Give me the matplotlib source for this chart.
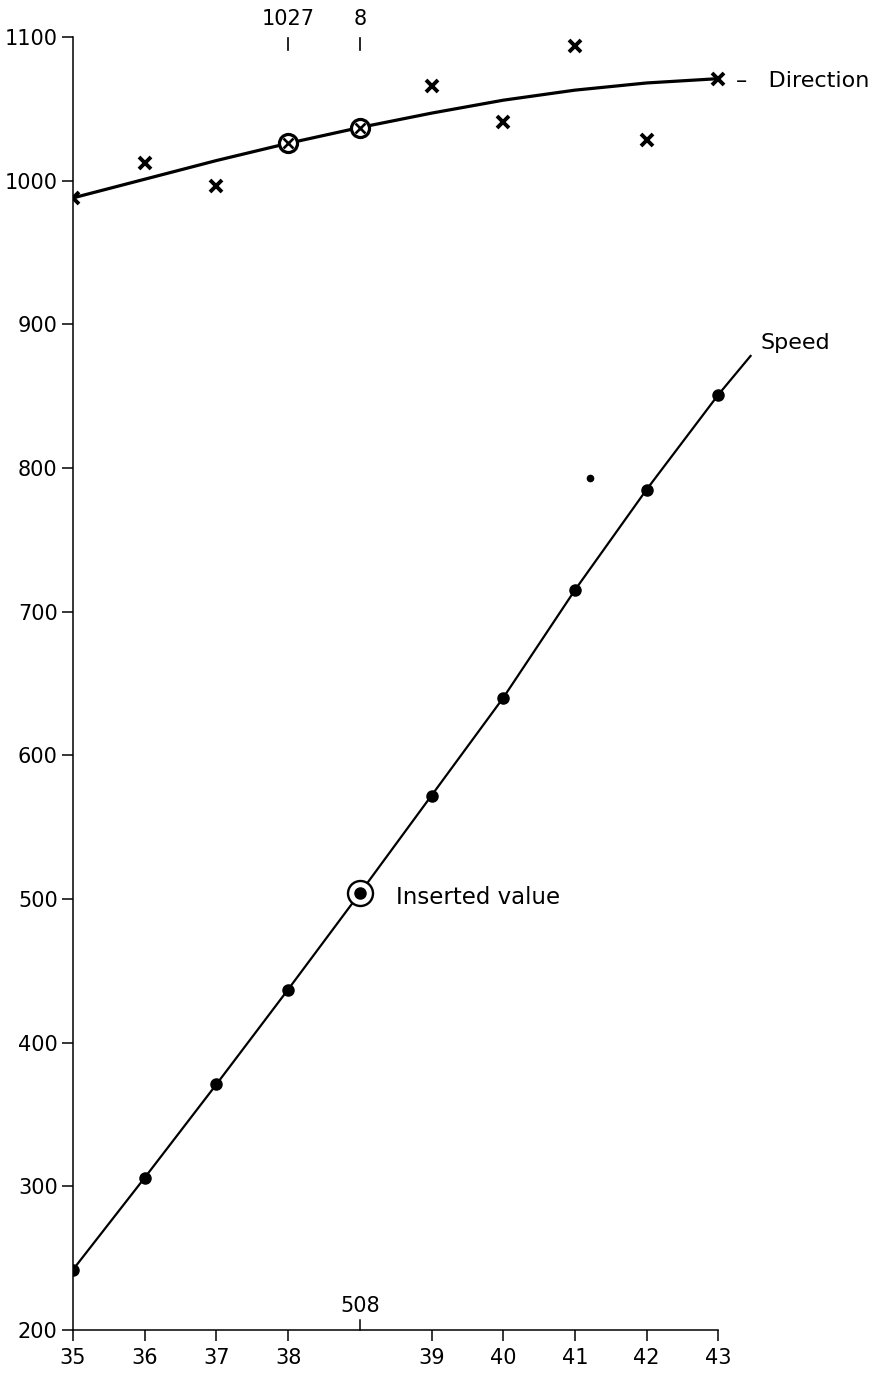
import numpy as np
import matplotlib
matplotlib.use("Agg")
import matplotlib.pyplot as plt

# observation index along the x axis; position 4 is the inserted value (no label)
positions = np.arange(10)
x_labels = ["35", "36", "37", "38", "", "39", "40", "41", "42", "43"]

speed = [242, 306, 371, 437, 504, 572, 640, 715, 785, 851]
speed_line_end = (9.45, 878)
inserted_idx = 4
inserted_label = "508"

direction = [988, 1012, 996, 1026, 1037, 1066, 1041, 1094, 1028, 1071]
direction_curve = [988, 1001, 1014, 1026, 1037, 1047, 1056, 1063, 1068, 1071]
circled_idx = [3, 4]
top_labels = ["1027", "8"]

stray_mark = (7.21, 793)

y_ticks = [200, 300, 400, 500, 600, 700, 800, 900, 1000, 1100]

plt.rcParams["font.family"] = ["DejaVu Sans"]

fig = plt.figure(figsize=(8.87, 13.84), dpi=100)
ax = fig.add_axes([73 / 887, 54 / 1384, 814 / 887, 1330 / 1384])
ax.set_xlim(0, 814 / 71.7)
ax.set_ylim(200, 1100 + 37 / 1.437)

# spines: only left and bottom, trimmed to the data range
for side in ["top", "right"]:
    ax.spines[side].set_visible(False)
ax.spines["left"].set_bounds(200, 1100)
ax.spines["bottom"].set_bounds(0, 9)
ax.spines["left"].set_linewidth(1.1)
ax.spines["bottom"].set_linewidth(1.1)

ax.set_yticks(y_ticks)
ax.set_yticklabels([str(v) for v in y_ticks])
xt = [p for p in positions if p != inserted_idx]
ax.set_xticks(xt)
ax.set_xticklabels([x_labels[p] for p in xt])
ax.tick_params(axis="both", direction="out", length=8, width=1.1, labelsize=15, pad=3)
ax.tick_params(axis="x", pad=5)

# speed: line + dots
sx = list(positions) + [speed_line_end[0]]
sy = list(speed) + [speed_line_end[1]]
ax.plot(sx, sy, color="black", lw=1.6, zorder=2)
ax.plot(positions, speed, "o", color="black", ms=8, zorder=3)
ax.plot(inserted_idx, speed[inserted_idx], "o", mfc="white", mec="black", mew=1.7,
        ms=18, zorder=2.5)
ax.annotate("Inserted value", xy=(inserted_idx, speed[inserted_idx]), xytext=(26, -3),
            textcoords="offset points", ha="left", va="center", fontsize=16.5)
ax.annotate("Speed", xy=speed_line_end, xytext=(7, 9), textcoords="offset points",
            ha="left", va="center", fontsize=16)

# inserted-value tick on the x axis, pointing up, with its label
ax.plot([inserted_idx, inserted_idx], [200, 207], color="black", lw=1.1, clip_on=False)
ax.annotate(inserted_label, xy=(inserted_idx, 200), xytext=(0, 10), textcoords="offset points",
            ha="center", va="bottom", fontsize=15)

# direction: smooth curve + crosses
ax.plot(positions, direction_curve, color="black", lw=2.3, zorder=2)
plain = [p for p in positions if p not in circled_idx]
ax.plot(plain, [direction[p] for p in plain], "x", color="black", ms=9, mew=2.8, zorder=3)
ax.plot(circled_idx, [direction[p] for p in circled_idx], "o", mfc="white", mec="black",
        mew=2.3, ms=13, zorder=3)
ax.plot(circled_idx, [direction[p] for p in circled_idx], "x", color="black", ms=7,
        mew=1.9, zorder=4)
ax.annotate("–   Direction", xy=(9, direction[9]), xytext=(13, -2), textcoords="offset points",
            ha="left", va="center", fontsize=16)

# labels above the circled direction points
for p, lab in zip(circled_idx, top_labels):
    ax.plot([p, p], [1091, 1099], color="black", lw=1.2, clip_on=False)
    ax.annotate(lab, xy=(p, 1100), xytext=(0, 6), textcoords="offset points",
                ha="center", va="bottom", fontsize=15, annotation_clip=False)

ax.plot(*stray_mark, marker="o", color="black", ms=4.5)

fig.savefig("out.png", dpi=100)
